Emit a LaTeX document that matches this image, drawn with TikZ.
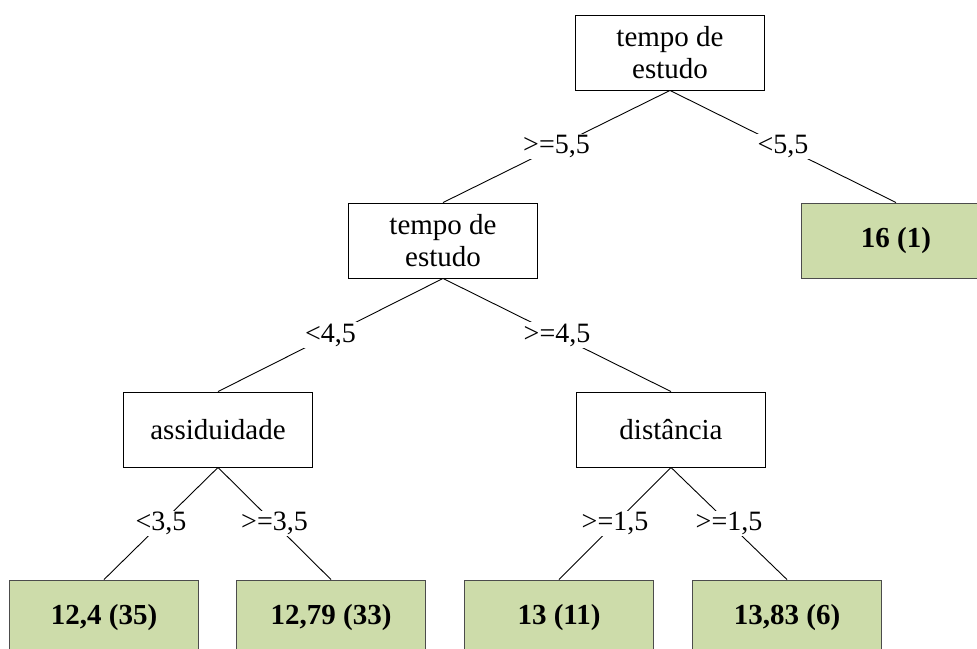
\documentclass[tikz,border=0pt]{standalone}
\usepackage{fontspec}
\setmainfont{Liberation Serif}
\definecolor{leafgreen}{RGB}{205,220,170}
\begin{document}
\begin{tikzpicture}[x=1pt,y=-1pt,
  box/.style={draw=black, line width=0.9pt, fill=white, minimum width=189pt, minimum height=75pt,
    inner sep=0pt, align=center, font=\fontsize{29}{32}\selectfont},
  leaf/.style={draw=black!70, line width=0.9pt, fill=leafgreen, minimum width=189pt, minimum height=75pt,
    inner sep=0pt, align=center, font=\fontsize{29}{32}\selectfont\bfseries},
  lbl/.style={fill=white, inner sep=1.5pt, font=\fontsize{28}{30}\selectfont},
  edge/.style={draw=black, line width=0.9pt}]
\useasboundingbox (0,0) rectangle (977,648);
\begin{scope}
\clip (0,0) rectangle (977,648);
\node[box] (root) at (670,52.5) {tempo de\\estudo};
\node[box] (n2) at (443,240.5) {tempo de\\estudo};
\node[leaf] (l16) at (896,240.5) {16 (1)};
\node[box] (assid) at (218,429.5) {assiduidade};
\node[box] (dist) at (671,429.5) {distância};
\node[leaf] (la) at (104,617.5) {12,4 (35)};
\node[leaf] (lb) at (331,617.5) {12,79 (33)};
\node[leaf] (lc) at (559,617.5) {13 (11)};
\node[leaf] (ld) at (787,617.5) {13,83 (6)};
\path[edge] (root.south) -- node[lbl] {>=5,5} (n2.north);
\path[edge] (root.south) -- node[lbl] {<5,5} (l16.north);
\path[edge] (n2.south) -- node[lbl] {<4,5} (assid.north);
\path[edge] (n2.south) -- node[lbl] {>=4,5} (dist.north);
\path[edge] (assid.south) -- node[lbl] {<3,5} (la.north);
\path[edge] (assid.south) -- node[lbl] {>=3,5} (lb.north);
\path[edge] (dist.south) -- node[lbl] {>=1,5} (lc.north);
\path[edge] (dist.south) -- node[lbl] {>=1,5} (ld.north);
\end{scope}
\end{tikzpicture}
\end{document}
